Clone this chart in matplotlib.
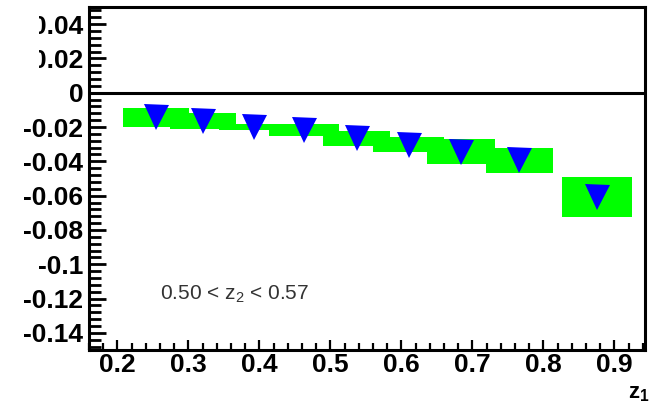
import numpy as np
import matplotlib
matplotlib.use('Agg')
import matplotlib.pyplot as plt
from matplotlib.ticker import MultipleLocator, FormatStrFormatter
from matplotlib.patches import Rectangle

plt.rcParams['font.family'] = ['Liberation Sans', 'DejaVu Sans']
plt.rcParams['axes.unicode_minus'] = False
plt.rcParams['mathtext.default'] = 'regular'

# z1 bins: mean z1, asymmetry value, systematic half-height, box width
z1 = [0.254, 0.320, 0.393, 0.463, 0.537, 0.610, 0.684, 0.766, 0.875]
asym = [-0.0143, -0.0165, -0.0198, -0.0216, -0.0265, -0.0302, -0.0343, -0.0395, -0.0607]
sys_err = [0.0055, 0.0047, 0.0017, 0.0035, 0.0044, 0.0044, 0.0072, 0.0072, 0.0117]
box_w = [0.093, 0.093, 0.10, 0.098, 0.095, 0.10, 0.096, 0.094, 0.099]

y_ticks = [0.04, 0.02, 0, -0.02, -0.04, -0.06, -0.08, -0.1, -0.12, -0.14]
x_ticks = [0.2, 0.3, 0.4, 0.5, 0.6, 0.7, 0.8, 0.9]

fig = plt.figure(figsize=(6.54, 4.07), dpi=100)
ax = fig.add_axes([89 / 654, 57 / 407, 556 / 654, 343 / 407])
ax.set_xlim(0.16, 0.943)
ax.set_ylim(-0.15, 0.05)

# systematic bands
z1_a = np.array(z1)
asym_a = np.array(asym)
sys_a = np.array(sys_err)
ax.bar(z1_a, 2 * sys_a, bottom=asym_a - sys_a, width=box_w,
       color='#00ff00', linewidth=0, zorder=2)

ax.axhline(0, color='black', lw=2.2, zorder=3)

ax.plot(z1_a, asym_a, 'v', color='#0000ff', markersize=18,
        markeredgewidth=0, zorder=4)

ax.text(0.26, -0.1205, r'0.50 < z$_2$ < 0.57', fontsize=15, color='#333333',
        ha='left', va='baseline')

# axes style
for s in ax.spines.values():
    s.set_linewidth(2.2)
ax.set_yticks(y_ticks)
ax.set_xticks(x_ticks)
ax.yaxis.set_major_formatter(FormatStrFormatter('%g'))
ax.xaxis.set_major_formatter(FormatStrFormatter('%g'))
ax.yaxis.set_minor_locator(MultipleLocator(0.004))
ax.xaxis.set_minor_locator(MultipleLocator(0.02))
ax.tick_params(axis='y', which='major', direction='in', length=12.5, width=2,
               labelsize=19, pad=4)
ax.tick_params(axis='y', which='minor', direction='in', length=8.5, width=2)
ax.tick_params(axis='x', which='major', direction='in', length=7.5, width=1.6,
               labelsize=19, pad=2)
ax.tick_params(axis='x', which='minor', direction='in', length=4.8, width=1.6)
for lab in ax.get_xticklabels() + ax.get_yticklabels():
    lab.set_fontweight('bold')

fig.text(628 / 654, 1 - 398 / 407, r'z$_1$', fontsize=16, fontweight='bold',
         ha='left', va='baseline')

# the top-left corner of the original is blanked out
fig.patches.append(Rectangle((0, 1 - 75 / 407), 39 / 654, 75 / 407,
                             transform=fig.transFigure, facecolor='white',
                             edgecolor='none', zorder=10))

fig.savefig('out.png', dpi=100)
